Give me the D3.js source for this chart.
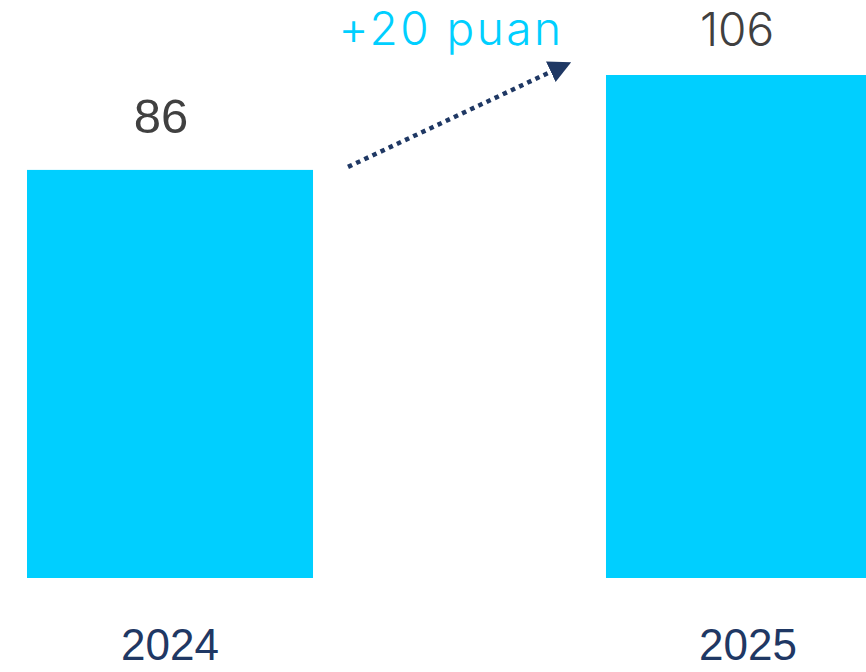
<!DOCTYPE html>
<html><head><meta charset="utf-8">
<script src="https://cdn.jsdelivr.net/npm/d3@7"></script>
<style>html,body{margin:0;padding:0;background:#fff;}svg{display:block;}</style>
</head><body>
<svg id="chart" width="866" height="672"></svg>
<script>
const years = ["2024", "2025"];
const values = [86, 106];
const deltaLabel = "+20 puan";

const svg = d3.select("#chart");
const x = d3.scaleBand().domain(years).range([27, 892]).paddingInner(0.506).paddingOuter(0);
const y = d3.scaleLinear().domain([0, 106]).range([578, 75]);

const barColor = "#00CFFF";
const navy = "#1F3864";

svg.selectAll("rect.bar").data(years).join("rect")
  .attr("class","bar")
  .attr("x", d => x(d)).attr("width", x.bandwidth())
  .attr("y", (d,i) => y(values[i])).attr("height", (d,i) => y(0) - y(values[i]))
  .attr("fill", barColor);

// value labels
svg.selectAll("text.val").data(years).join("text")
  .attr("class","val")
  .attr("x", (d,i) => x(d) + x.bandwidth()/2 - (i===0 ? 9 : 12))
  .attr("y", (d,i) => y(values[i]) - 37 + (i===1 ? 8 : 0))
  .attr("text-anchor","middle")
  .attr("font-family", (d,i) => i===0 ? "Liberation Sans, Arial, sans-serif" : "Inter, sans-serif")
  .attr("font-weight", (d,i) => i===0 ? 400 : 300)
  .attr("font-size", (d,i) => i===0 ? 49 : 46)
  .attr("fill", "#404040")
  .text((d,i) => values[i]);

// year labels
svg.selectAll("text.year").data(years).join("text")
  .attr("class","year")
  .attr("x", d => x(d) + x.bandwidth()/2 - (d==="2025" ? 1 : 0))
  .attr("y", 660)
  .attr("text-anchor","middle")
  .attr("font-family","Liberation Sans, Arial, sans-serif")
  .attr("font-size", 44)
  .attr("fill", navy)
  .text(d => d);

// arrow
const defs = svg.append("defs");
defs.append("marker").attr("id","arr").attr("viewBox","0 0 10 10")
  .attr("refX", 5).attr("refY", 5).attr("markerWidth", 5).attr("markerHeight", 5)
  .attr("markerUnits","strokeWidth").attr("orient","auto")
  .append("path").attr("d","M0,0 L10,5 L0,10 Z").attr("fill", navy);

const x1 = x("2024") + x.bandwidth() + 35, y1 = y(values[0]) - 3;
const x2 = x("2025") - 45, y2 = y(values[1]) - 8;
svg.append("line")
  .attr("x1", x1).attr("y1", y1).attr("x2", x2).attr("y2", y2)
  .attr("stroke", navy).attr("stroke-width", 4.5)
  .attr("stroke-dasharray", "4.5 4.5")
  .attr("marker-end","url(#arr)");

svg.append("text")
  .attr("x", 451).attr("y", 45)
  .attr("text-anchor","middle")
  .attr("font-family","Inter, sans-serif")
  .attr("font-weight", 300)
  .attr("font-size", 46)
  .attr("letter-spacing", "2.5px")
  .attr("fill", barColor)
  .text(deltaLabel);
</script>
</body></html>
